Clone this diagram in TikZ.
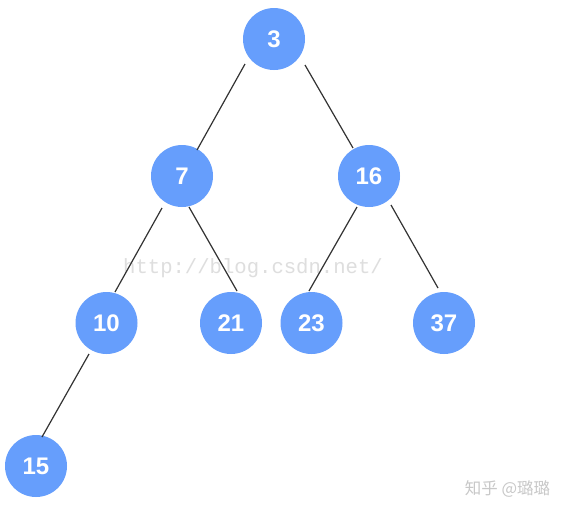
\documentclass[tikz,border=0pt]{standalone}
\usepackage{fontspec}
\usetikzlibrary{calc}
\setmainfont{Liberation Sans}
\newfontfamily\wmfont{Liberation Mono}
\newfontfamily\cjkfont{Noto Sans CJK SC}
\definecolor{nodeblue}{RGB}{102,158,252}
\definecolor{edgegray}{RGB}{51,51,51}
\definecolor{wmgray}{RGB}{222,222,222}
\definecolor{zhgray}{RGB}{200,200,200}
\tikzset{
  treenode/.style={circle, fill=nodeblue, draw=none, minimum size=62pt, inner sep=0pt,
    text=white, font=\fontsize{24}{24}\selectfont\bfseries},
  edge/.style={draw=edgegray, line width=1.2pt},
  wmark/.style={text=wmgray, font=\wmfont\fontsize{20.6}{21}\selectfont, inner sep=0pt},
  zhmark/.style={text=zhgray, font=\cjkfont\fontsize{16.5}{17}\selectfont, inner sep=0pt}
}
\begin{document}
\begin{tikzpicture}[x=1pt,y=-1pt]
\useasboundingbox (0,0) rectangle (566,509);
\fill[white] (0,0) rectangle (566,509);
\node[wmark] (wm) at (253,268) {http://blog.csdn.net/};
\node[zhmark] (zh) at (507.5,489) {知乎 @璐璐};
\node[treenode] (n3) at (274,39) {3};
\node[treenode] (n7) at (182,176) {7};
\node[treenode] (n16) at (369,176) {16};
\node[treenode] (n10) at (106.5,323) {10};
\node[treenode] (n21) at (231,323) {21};
\node[treenode] (n23) at (311.5,323) {23};
\node[treenode] (n37) at (444,323) {37};
\node[treenode] (n15) at (36,466) {15};
\draw[edge] ($(n3)+(-29,25)$) -- ($(n7)+(15,-26)$);
\draw[edge] ($(n3)+(31,26)$) -- ($(n16)+(-16,-28)$);
\draw[edge] ($(n7)+(-20,32)$) -- ($(n10)+(8.5,-31)$);
\draw[edge] ($(n7)+(7,31)$) -- ($(n21)+(6,-32)$);
\draw[edge] ($(n16)+(-12,31)$) -- ($(n23)+(-2.5,-32)$);
\draw[edge] ($(n16)+(22,29)$) -- ($(n37)+(-6,-35)$);
\draw[edge] ($(n10)+(-17.5,31)$) -- ($(n15)+(6,-29)$);
\end{tikzpicture}
\end{document}
